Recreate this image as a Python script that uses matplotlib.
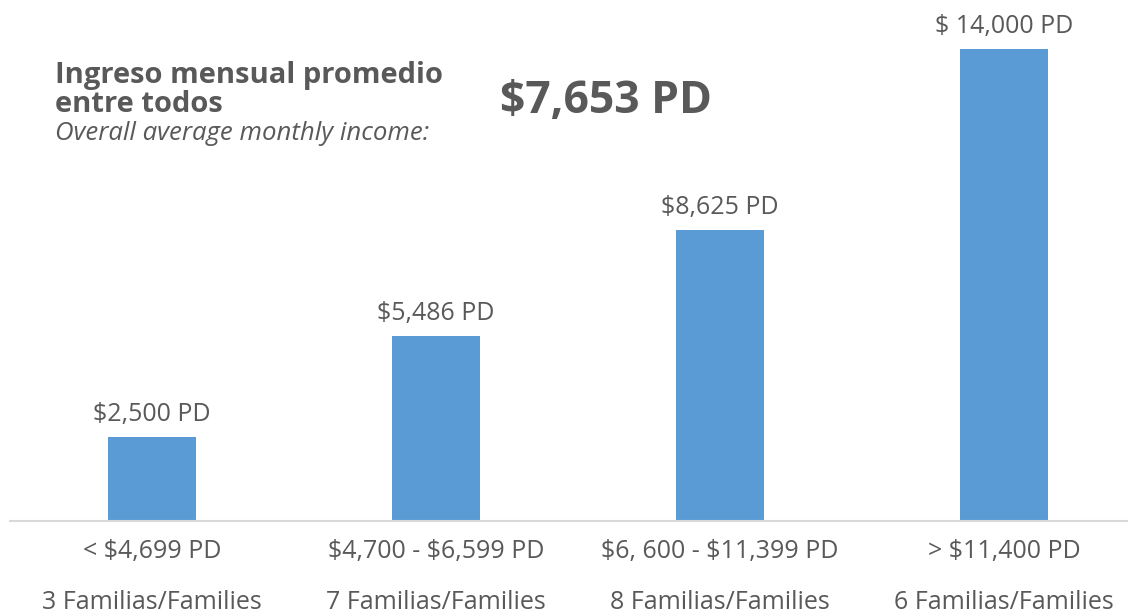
import matplotlib
matplotlib.use("Agg")
import matplotlib.pyplot as plt
from matplotlib import transforms

categories = ["< $4,699 PD", "$4,700 - $6,599 PD", "$6, 600 - $11,399 PD", "> $11,400 PD"]
families = ["3 Familias/Families", "7 Familias/Families", "8 Familias/Families", "6 Familias/Families"]
values = [2500, 5486, 8625, 14000]
value_labels = ["$2,500 PD", "$5,486 PD", "$8,625 PD", "$ 14,000 PD"]

plt.rcParams['font.family'] = ['Open Sans', 'DejaVu Sans']
plt.rcParams['text.parse_math'] = False
gray = '#595959'
bar_color = '#5B9BD5'

fig = plt.figure(figsize=(11.28, 6.15), dpi=100)
ax = fig.add_axes([10/1128, 1 - 521/615, 1136/1128, (521 - 49)/615])
x = list(range(len(values)))
ax.bar(x, values, width=0.31, color=bar_color, zorder=2)
ax.set_xlim(-0.5, 3.5)
ax.set_ylim(0, 14000)
for s in ['top', 'right', 'left']:
    ax.spines[s].set_visible(False)
ax.spines['bottom'].set_color('#D9D9D9')
ax.spines['bottom'].set_linewidth(1.5)
ax.set_yticks([])
ax.set_xticks([])

for xi, v, lab in zip(x, values, value_labels):
    ax.annotate(lab, (xi, v), xytext=(0, 11.5), textcoords='offset points',
                ha='center', va='baseline', fontsize=18, color=gray)

trans = transforms.blended_transform_factory(ax.transData, fig.transFigure)
for xi, c, f in zip(x, categories, families):
    ax.text(xi, 1 - 558/615, c, transform=trans, ha='center', va='baseline', fontsize=18, color=gray)
    ax.text(xi, 1 - 609/615, f, transform=trans, ha='center', va='baseline', fontsize=18, color=gray)

fig.text(55/1128, 1 - 83/615, "Ingreso mensual promedio", fontsize=21, fontweight='bold', color=gray, va='baseline', ha='left')
fig.text(55/1128, 1 - 112/615, "entre todos", fontsize=21, fontweight='bold', color=gray, va='baseline', ha='left')
fig.text(55/1128, 1 - 140/615, "Overall average monthly income:", fontsize=18.5, style='italic', color=gray, va='baseline', ha='left')
fig.text(500/1128, 1 - 113/615, "$7,653 PD", fontsize=32, fontweight='bold', color=gray, va='baseline', ha='left')

fig.savefig("out.png", dpi=100)
